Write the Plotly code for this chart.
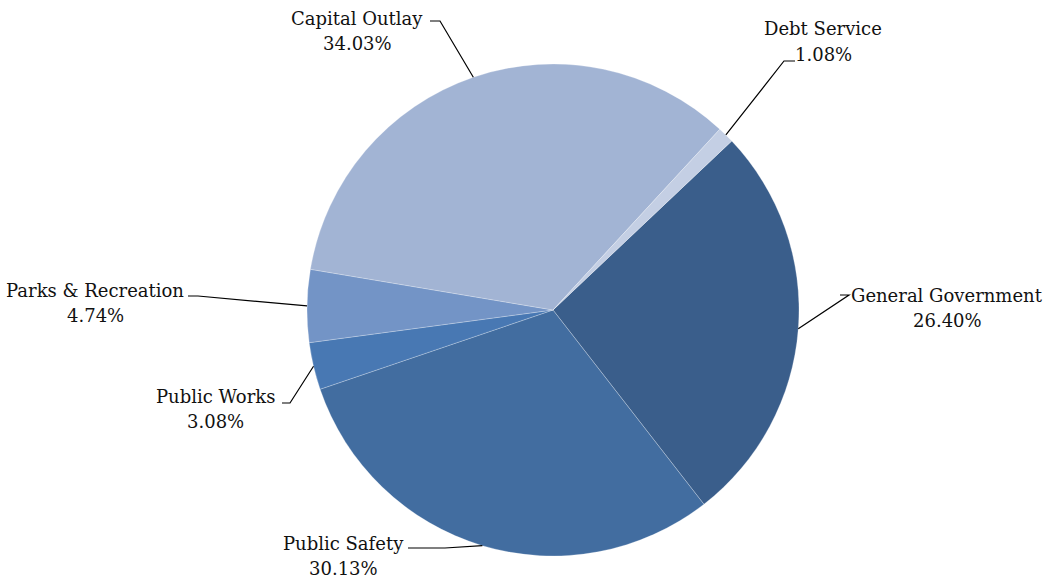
import math
import plotly.graph_objects as go

# Expenditure shares by function (percent)
categories = ["General Government", "Public Safety", "Public Works",
              "Parks & Recreation", "Capital Outlay", "Debt Service"]
shares = [26.40, 30.13, 3.08, 4.74, 34.03, 1.08]
share_labels = ["26.40%", "30.13%", "3.08%", "4.74%", "34.03%", "1.08%"]

colors = ["#3A5E8B", "#426DA0", "#4878B3", "#7394C6", "#A2B4D4", "#C4CFE4"]

W, H = 1047, 579
CX, CY, R = 553, 310, 246
ROTATION = 46.6

# label block centre (x, first-line y) and elbow point of the leader (x_end, x_elbow, y)
label_pos = {
    "General Government": (947, 295, 840, 849, 295),
    "Public Safety": (343, 543, 408, 445, 548),
    "Public Works": (215, 396, 282, 290, 403),
    "Parks & Recreation": (95, 290, 188, 198, 296),
    "Capital Outlay": (357, 19, 430, 440, 21),
    "Debt Service": (823, 29, 795, 784, 61),
}


def px(x):
    return x / W


def py(y):
    return 1 - y / H


fig = go.Figure(go.Pie(
    labels=categories,
    values=shares,
    sort=False,
    direction="clockwise",
    rotation=ROTATION,
    marker=dict(colors=colors, line=dict(color="rgba(255,255,255,0.5)", width=0.5)),
    textinfo="none",
    hoverinfo="label+value",
    showlegend=False,
    domain=dict(x=[px(CX - R), px(CX + R)], y=[py(CY + R), py(CY - R)]),
))

total = sum(shares)
angle = ROTATION
shapes = []
annotations = []
font = dict(family="DejaVu Serif", size=18, color="#111111")
for cat, val, txt in zip(categories, shares, share_labels):
    span = val / total * 360
    mid = math.radians(angle + span / 2)
    angle += span
    ax = CX + R * math.sin(mid)
    ay = CY - R * math.cos(mid)
    tx, ty, x_end, x_elbow, y_line = label_pos[cat]
    shapes.append(dict(type="path", xref="paper", yref="paper",
                       path=f"M {px(x_end)} {py(y_line)} L {px(x_elbow)} {py(y_line)} "
                            f"L {px(ax)} {py(ay)}",
                       line=dict(color="#000000", width=1.2)))
    annotations.append(dict(x=px(tx), y=py(ty), xref="paper", yref="paper",
                            text=cat, showarrow=False, font=font,
                            xanchor="center", yanchor="middle"))
    annotations.append(dict(x=px(tx), y=py(ty + 25), xref="paper", yref="paper",
                            text=txt, showarrow=False, font=font,
                            xanchor="center", yanchor="middle"))

fig.update_layout(
    width=W, height=H,
    margin=dict(l=0, r=0, t=0, b=0),
    paper_bgcolor="white",
    plot_bgcolor="white",
    shapes=shapes,
    annotations=annotations,
)

fig.write_html("out.html")
